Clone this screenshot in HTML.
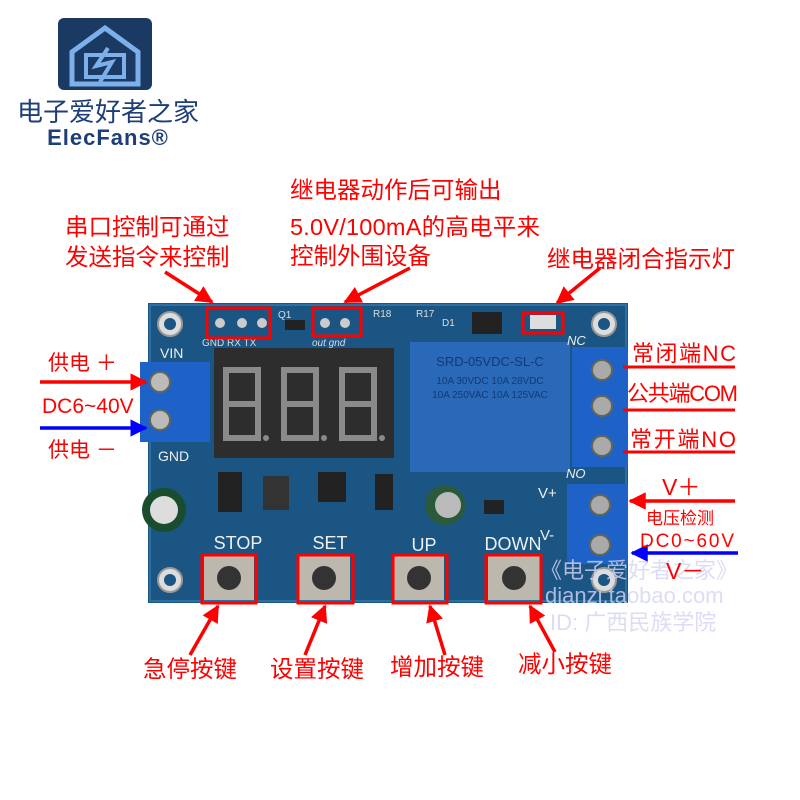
<!DOCTYPE html>
<html><head><meta charset="utf-8"><style>
html,body{margin:0;padding:0;background:#fff;width:800px;height:800px;overflow:hidden}
svg{display:block}
text{font-family:"Liberation Sans","Noto Sans CJK SC",sans-serif}
</style></head><body>
<svg width="800" height="800" viewBox="0 0 800 800" xmlns="http://www.w3.org/2000/svg">
<defs>
<marker id="ar" viewBox="0 0 10 10" refX="9" refY="5" markerWidth="5" markerHeight="5" orient="auto"><path d="M0,0 L10,5 L0,10 z" fill="#f00"/></marker>
<marker id="ab" viewBox="0 0 10 10" refX="9" refY="5" markerWidth="5" markerHeight="5" orient="auto"><path d="M0,0 L10,5 L0,10 z" fill="#00f"/></marker>
</defs>
<!-- logo -->
<rect x="58" y="18" width="94" height="72" rx="6" fill="#1b3a63"/>
<path d="M72,52 L105,28 L138,52 L138,84 L72,84 Z" fill="none" stroke="#7db0ea" stroke-width="5"/>
<rect x="86" y="55" width="38" height="22" fill="none" stroke="#7db0ea" stroke-width="4"/>
<path d="M108,48 L96,66 L112,62 L100,82" fill="none" stroke="#7db0ea" stroke-width="4"/>
<text x="108" y="121" font-size="26" fill="#1d3e78" text-anchor="middle">电子爱好者之家</text>
<text x="108" y="145" font-size="22" fill="#1d3e78" text-anchor="middle" font-weight="bold" letter-spacing="1">ElecFans®</text>

<!-- top labels -->
<g fill="#f00" font-size="23.5">
<text x="290" y="198">继电器动作后可输出</text>
<text x="290" y="235" textLength="250">5.0V/100mA的高电平来</text>
<text x="290" y="264">控制外围设备</text>
<text x="65" y="235">串口控制可通过</text>
<text x="65" y="265">发送指令来控制</text>
<text x="547" y="267">继电器闭合指示灯</text>
</g>

<!-- board -->
<rect x="148" y="303" width="480" height="300" fill="#1a5583"/>
<rect x="150" y="305" width="476" height="296" fill="none" stroke="#2b70a0" stroke-width="2"/>
<g fill="#ddd" stroke="#999" stroke-width="2">
<circle cx="170" cy="324" r="12"/><circle cx="604" cy="324" r="12"/>
<circle cx="170" cy="580" r="12"/><circle cx="604" cy="580" r="12"/>
</g>
<g fill="#1a5583"><circle cx="170" cy="324" r="6"/><circle cx="604" cy="324" r="6"/><circle cx="170" cy="580" r="6"/><circle cx="604" cy="580" r="6"/></g>
<!-- header pins -->
<g fill="#ccc"><circle cx="220" cy="323" r="5"/><circle cx="242" cy="323" r="5"/><circle cx="262" cy="323" r="5"/><circle cx="325" cy="323" r="5"/><circle cx="345" cy="323" r="5"/></g>
<g fill="#ddd" font-size="10"><text x="202" y="346">GND RX TX</text><text x="312" y="346" font-style="italic">out gnd</text><text x="278" y="318">Q1</text><text x="373" y="317">R18</text><text x="416" y="317">R17</text><text x="442" y="326">D1</text></g>
<rect x="285" y="320" width="20" height="10" fill="#222"/>
<rect x="472" y="312" width="30" height="22" fill="#222"/>
<rect x="530" y="315" width="26" height="14" fill="#ddd"/>
<!-- display -->
<rect x="214" y="348" width="180" height="110" fill="#2d2d2d"/>
<g fill="none" stroke="#8a8a8a" stroke-width="6">
<path d="M226,370 h32 v34 h-32 z M226,404 v34 h32 v-34"/>
<path d="M284,370 h32 v34 h-32 z M284,404 v34 h32 v-34"/>
<path d="M342,370 h32 v34 h-32 z M342,404 v34 h32 v-34"/>
</g>
<g fill="#8a8a8a"><circle cx="266" cy="438" r="3"/><circle cx="324" cy="438" r="3"/><circle cx="382" cy="438" r="3"/></g>
<!-- relay -->
<rect x="410" y="342" width="160" height="130" fill="#2a68b8"/>
<g fill="#133a78" font-size="13" text-anchor="middle">
<text x="490" y="366">SRD-05VDC-SL-C</text>
<text x="490" y="384" font-size="10">10A 30VDC 10A 28VDC</text>
<text x="490" y="398" font-size="10">10A 250VAC 10A 125VAC</text>
</g>
<!-- right terminal blocks -->
<rect x="572" y="347" width="56" height="120" fill="#1e62c8"/>
<rect x="567" y="484" width="61" height="80" fill="#1e62c8"/>
<g fill="#aaa" stroke="#665" stroke-width="2">
<circle cx="602" cy="370" r="10"/><circle cx="602" cy="406" r="10"/><circle cx="602" cy="446" r="10"/>
<circle cx="600" cy="505" r="10"/><circle cx="600" cy="545" r="10"/>
</g>
<g fill="#eee" font-size="13" font-style="italic"><text x="567" y="345">NC</text><text x="566" y="478">NO</text><text x="538" y="498" font-style="normal" font-size="15">V+</text><text x="540" y="540" font-style="normal" font-size="15">V-</text></g>
<!-- left terminal -->
<rect x="140" y="362" width="70" height="80" fill="#1e62c8"/>
<g fill="#bbb" stroke="#665" stroke-width="2"><circle cx="160" cy="382" r="10"/><circle cx="160" cy="420" r="10"/></g>
<g fill="#eee" font-size="14"><text x="160" y="358">VIN</text><text x="158" y="461">GND</text></g>
<!-- misc components -->
<rect x="218" y="472" width="24" height="40" fill="#222"/>
<rect x="263" y="476" width="26" height="34" fill="#333"/>
<rect x="318" y="472" width="28" height="30" fill="#222"/>
<rect x="375" y="474" width="18" height="36" fill="#222"/>
<circle cx="164" cy="510" r="22" fill="#1a4d2e"/><circle cx="164" cy="510" r="14" fill="#ddd"/>
<circle cx="445" cy="505" r="20" fill="#2a5a3a"/><circle cx="448" cy="505" r="13" fill="#bbb"/>
<rect x="484" y="500" width="20" height="14" fill="#222"/>
<!-- button labels -->
<g fill="#f0f0f0" font-size="18" text-anchor="middle"><text x="238" y="549">STOP</text><text x="330" y="549">SET</text><text x="424" y="551">UP</text><text x="513" y="550">DOWN</text></g>
<!-- buttons -->
<g fill="#bdb8ae"><rect x="204" y="556" width="50" height="44"/><rect x="298" y="556" width="52" height="44"/><rect x="394" y="556" width="50" height="44"/><rect x="488" y="556" width="52" height="44"/></g>
<g fill="#333"><circle cx="229" cy="578" r="12"/><circle cx="324" cy="578" r="12"/><circle cx="419" cy="578" r="12"/><circle cx="514" cy="578" r="12"/></g>
<!-- red boxes -->
<g fill="none" stroke="#f00" stroke-width="3">
<rect x="207" y="308" width="63" height="30"/><rect x="313" y="308" width="48" height="28"/><rect x="523" y="313" width="40" height="20"/>
<rect x="202" y="555" width="54" height="48"/><rect x="298" y="555" width="55" height="48"/><rect x="393" y="555" width="54" height="48"/><rect x="486" y="555" width="55" height="48"/>
</g>
<!-- watermark -->
<g fill="#d4d4f4" font-size="22" opacity="0.8"><text x="540" y="578">《电子爱好者之家》</text><text x="545" y="603">dianzi.taobao.com</text><text x="550" y="630">ID: 广西民族学院</text></g>
<!-- arrows -->
<g stroke="#f00" stroke-width="3.5" fill="none" marker-end="url(#ar)">
<line x1="165" y1="272" x2="212" y2="302"/>
<line x1="410" y1="268" x2="345" y2="302"/>
<line x1="600" y1="268" x2="557" y2="303"/>
<line x1="40" y1="382" x2="146" y2="382"/>
<line x1="735" y1="501" x2="630" y2="501"/>
<line x1="190" y1="655" x2="218" y2="606"/>
<line x1="305" y1="655" x2="325" y2="606"/>
<line x1="445" y1="655" x2="430" y2="606"/>
<line x1="555" y1="652" x2="530" y2="606"/>
</g>
<g stroke="#00f" stroke-width="3.5" fill="none" marker-end="url(#ab)">
<line x1="40" y1="428" x2="146" y2="428"/>
<line x1="738" y1="553" x2="632" y2="553"/>
</g>
<g stroke="#f00" stroke-width="3"><line x1="623" y1="367" x2="735" y2="367"/><line x1="623" y1="410" x2="735" y2="410"/><line x1="623" y1="452" x2="735" y2="452"/></g>
<!-- side labels -->
<g fill="#f00" font-size="21">
<text x="48" y="370">供电 ＋</text>
<text x="42" y="413">DC6~40V</text>
<text x="48" y="457">供电 －</text>
<text x="632" y="361" font-size="22" textLength="104">常闭端NC</text>
<text x="627" y="401" font-size="22" textLength="111">公共端COM</text>
<text x="630" y="447" font-size="22" textLength="106">常开端NO</text>
<text x="662" y="495" font-size="23">V＋</text>
<text x="646" y="524" font-size="17">电压检测</text>
<text x="640" y="547" font-size="19" textLength="94">DC0~60V</text>
<text x="666" y="579" font-size="23">V－</text>
</g>
<g fill="#f00" font-size="23.5">
<text x="143" y="677">急停按键</text>
<text x="270" y="677">设置按键</text>
<text x="390" y="675">增加按键</text>
<text x="518" y="672">减小按键</text>
</g>
</svg>
</body></html>
